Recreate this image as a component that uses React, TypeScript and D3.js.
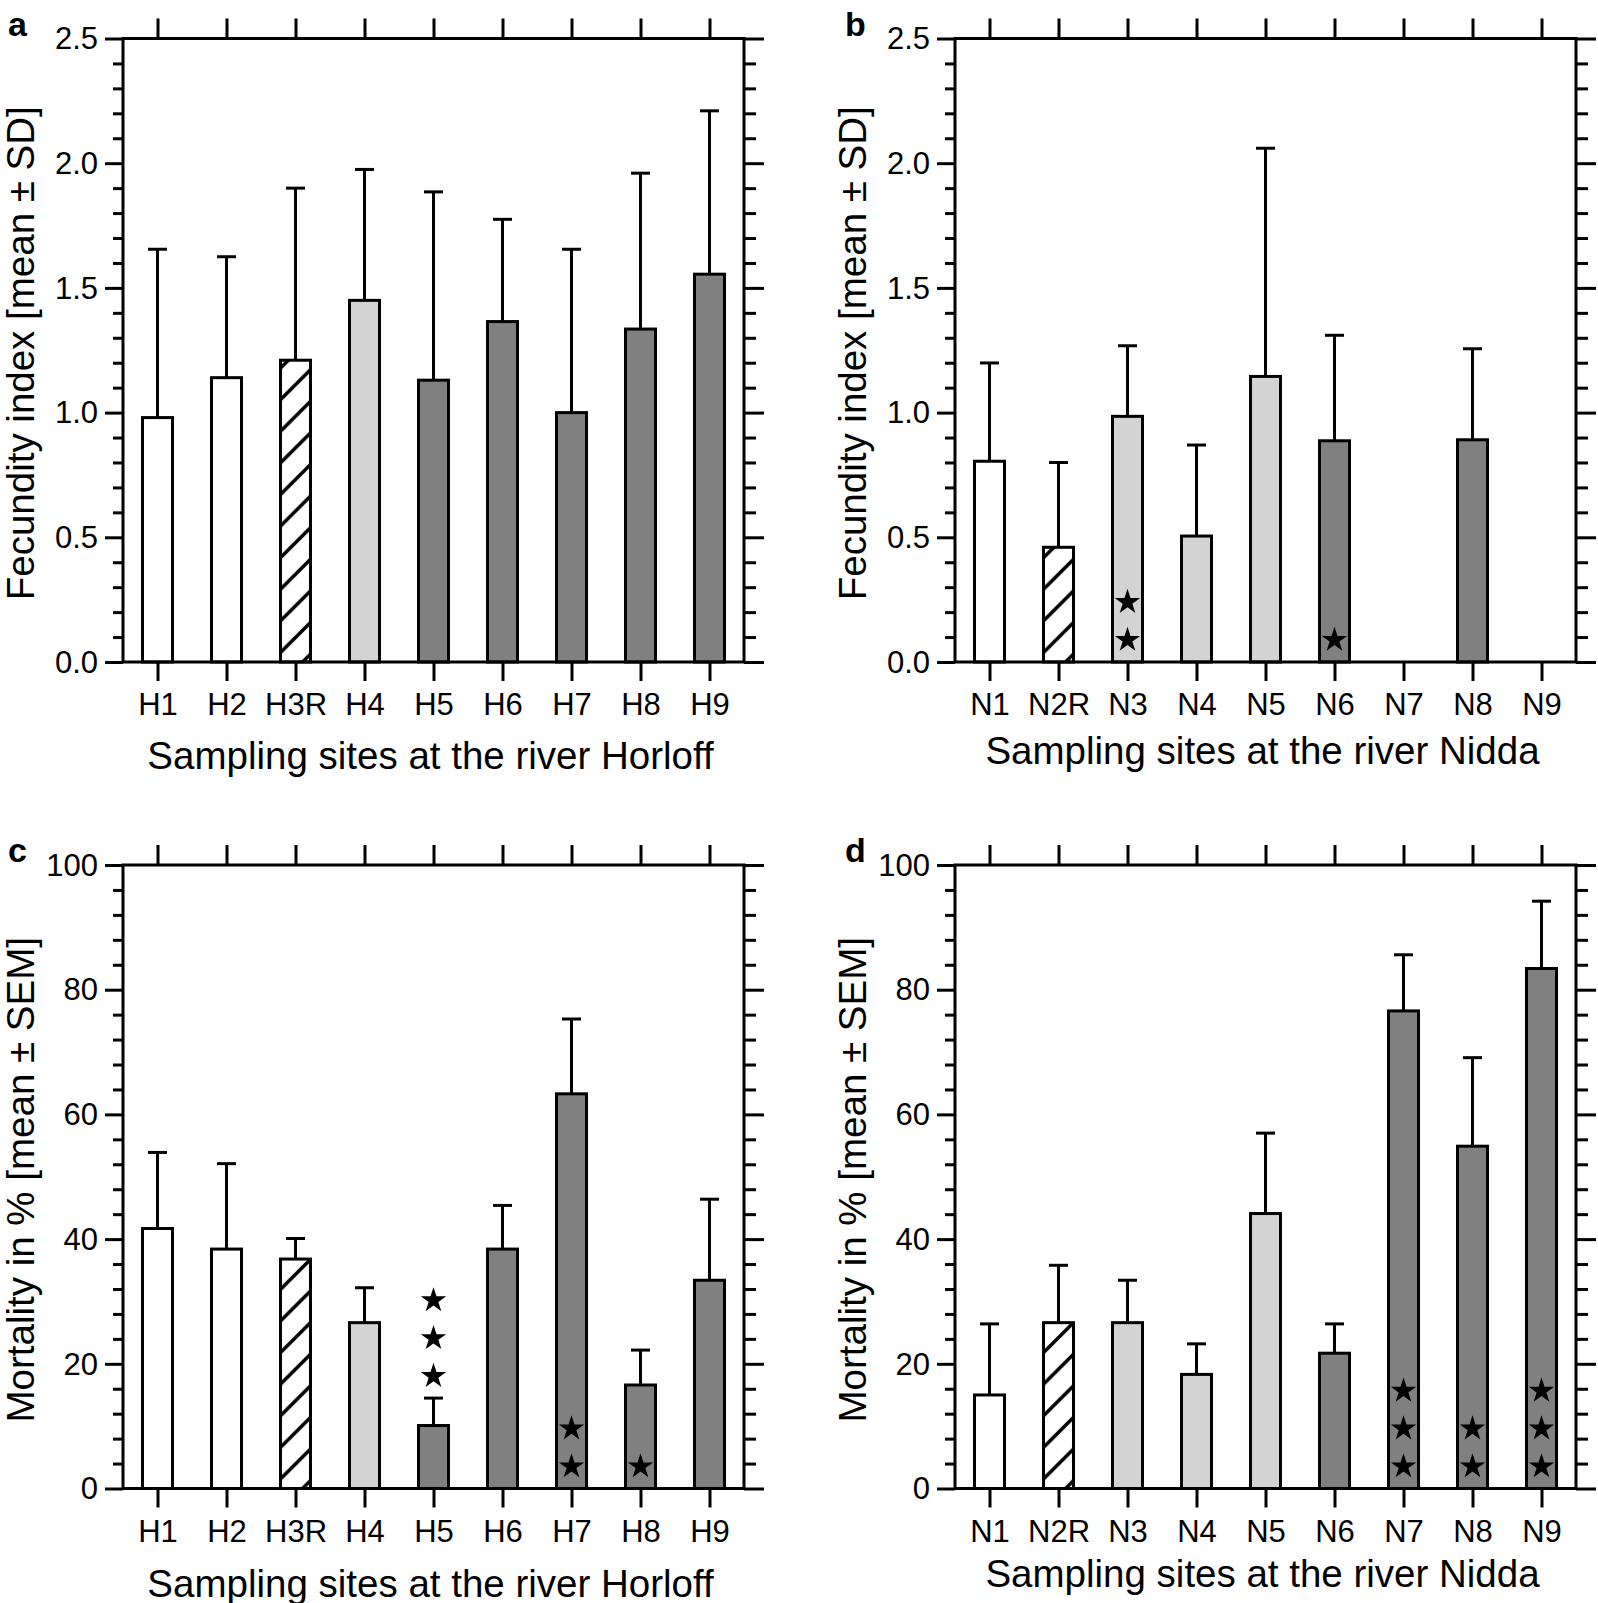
import React, { useEffect, useRef } from 'react';
import * as d3 from 'd3';

// sites and bar fill types
const horloffSites = ["H1", "H2", "H3R", "H4", "H5", "H6", "H7", "H8", "H9"];
const niddaSites = ["N1", "N2R", "N3", "N4", "N5", "N6", "N7", "N8", "N9"];
const horloffFill = ["white", "white", "hatch", "light", "dark", "dark", "dark", "dark", "dark"];
const niddaFill = ["white", "hatch", "light", "light", "light", "dark", "dark", "dark", "dark"];

// a: fecundity Horloff (mean, SD)
const fecHorloffMean = [0.98, 1.14, 1.21, 1.45, 1.13, 1.365, 1.0, 1.335, 1.555];
const fecHorloffSD = [0.675, 0.485, 0.69, 0.525, 0.755, 0.41, 0.655, 0.625, 0.655];
// b: fecundity Nidda (mean, SD)
const fecNiddaMean = [0.805, 0.46, 0.985, 0.505, 1.145, 0.887, 0, 0.891, 0];
const fecNiddaSD = [0.394, 0.34, 0.283, 0.365, 0.915, 0.423, 0, 0.365, 0];
const fecNiddaStars = [0, 0, 2, 0, 0, 1, 0, 0, 0];
// c: mortality Horloff (mean, SEM)
const morHorloffMean = [41.7, 38.4, 36.8, 26.6, 10.1, 38.4, 63.3, 16.6, 33.4];
const morHorloffSEM = [12.2, 13.7, 3.3, 5.6, 4.4, 7.0, 12.0, 5.6, 13.0];
const morHorloffStars = [0, 0, 0, 0, 3, 0, 2, 1, 0];
const morHorloffStarsAbove = ["H5"];
// d: mortality Nidda (mean, SEM)
const morNiddaMean = [15.0, 26.6, 26.6, 18.3, 44.1, 21.7, 76.6, 54.9, 83.4];
const morNiddaSEM = [11.4, 9.2, 6.8, 4.9, 12.9, 4.7, 9.0, 14.2, 10.8];
const morNiddaStars = [0, 0, 0, 0, 0, 0, 3, 2, 3];

const fecundityTicks = [0, 0.5, 1.0, 1.5, 2.0, 2.5];
const mortalityTicks = [0, 20, 40, 60, 80, 100];

const FONT = "'Liberation Sans', Arial, Helvetica, sans-serif";
const W = 621;
const H = 623.5;
const fills = { white: "#ffffff", light: "#d3d3d3", dark: "#808080" };

function drawPanel(svg, p) {
  const g = svg.append("g");
  const x = d3.scalePoint().domain(p.sites).range([p.left, p.left + W]).padding(0.5);
  const y = d3.scaleLinear().domain([0, p.yMax]).range([p.top + H, p.top]);

  const data = p.sites.map((s, i) => ({
    site: s, mean: p.mean[i], err: p.err[i], fill: p.fill[i],
    stars: p.stars ? p.stars[i] : 0,
    above: p.starsAbove ? p.starsAbove.includes(s) : false,
  }));

  // hatch pattern for this panel
  const s = 31.6;
  const firstBar = data.find(d => d.fill === "hatch");
  const off = ((x(firstBar.site) - 16.5 + y(0) - 8) % s + s) % s;
  const pat = svg.select("defs").append("pattern")
    .attr("id", p.id + "-hatch")
    .attr("patternUnits", "userSpaceOnUse")
    .attr("x", off).attr("y", 0)
    .attr("width", s).attr("height", s);
  pat.append("rect").attr("width", s).attr("height", s).attr("fill", "#fff");
  pat.append("path")
    .attr("d", `M0,${s} L${s},0 M${-s / 2},${s / 2} L${s / 2},${-s / 2} M${s / 2},${s * 1.5} L${s * 1.5},${s / 2}`)
    .attr("stroke", "#000").attr("stroke-width", 3.5);

  const bars = data.filter(d => d.mean > 0);

  // error bars
  g.selectAll("line.err").data(bars).enter().append("line")
    .attr("x1", d => x(d.site)).attr("x2", d => x(d.site))
    .attr("y1", d => y(d.mean)).attr("y2", d => y(d.mean + d.err))
    .attr("stroke", "#000").attr("stroke-width", 3);
  g.selectAll("line.cap").data(bars).enter().append("line")
    .attr("x1", d => x(d.site) - 9.5).attr("x2", d => x(d.site) + 9.5)
    .attr("y1", d => y(d.mean + d.err)).attr("y2", d => y(d.mean + d.err))
    .attr("stroke", "#000").attr("stroke-width", 3);

  g.selectAll("rect.bar").data(bars).enter().append("rect")
    .attr("x", d => x(d.site) - 15)
    .attr("y", d => y(d.mean))
    .attr("width", 30)
    .attr("height", d => y(0) - y(d.mean))
    .attr("fill", d => d.fill === "hatch" ? `url(#${p.id}-hatch)` : fills[d.fill])
    .attr("stroke", "#000").attr("stroke-width", 3);

  // significance stars
  const star = d3.symbol().type(d3.symbolStar).size(200);
  data.forEach(d => {
    const base = d.above ? y(d.mean + d.err) : y(0);
    for (let k = 0; k < d.stars; k++) {
      g.append("path").attr("d", star())
        .attr("transform", `translate(${x(d.site)},${base - 22 - k * 37.8})`)
        .attr("fill", "#000");
    }
  });

  // axes
  const minors = d3.range(0, p.yMax + 1e-9, p.minorStep)
    .filter(v => !p.ticks.some(t => Math.abs(t - v) < 1e-9));

  const styleAxis = (sel) => {
    sel.select(".domain").remove();
    sel.selectAll("line").attr("stroke", "#000").attr("stroke-width", 3);
    sel.selectAll("text").attr("fill", "#000").attr("font-family", FONT).attr("font-size", 31);
  };

  g.append("g").attr("transform", `translate(${p.left},0)`)
    .call(d3.axisLeft(y).tickValues(p.ticks).tickSize(18).tickPadding(7).tickFormat(p.format))
    .call(styleAxis)
    .selectAll("text").attr("dy", "0.33em");
  g.append("g").attr("transform", `translate(${p.left},0)`)
    .call(d3.axisLeft(y).tickValues(minors).tickSize(10).tickFormat(() => ""))
    .call(styleAxis);
  g.append("g").attr("transform", `translate(${p.left + W},0)`)
    .call(d3.axisRight(y).tickValues(p.ticks).tickSize(20).tickFormat(() => ""))
    .call(styleAxis);
  g.append("g").attr("transform", `translate(${p.left + W},0)`)
    .call(d3.axisRight(y).tickValues(minors).tickSize(12).tickFormat(() => ""))
    .call(styleAxis);
  g.append("g").attr("transform", `translate(0,${p.top})`)
    .call(d3.axisTop(x).tickSize(20).tickFormat(() => ""))
    .call(styleAxis);
  g.append("g").attr("transform", `translate(0,${p.top + H})`)
    .call(d3.axisBottom(x).tickSize(19))
    .call(styleAxis)
    .selectAll("text").attr("y", 53).attr("dy", 0);

  // frame
  g.append("rect")
    .attr("x", p.left).attr("y", p.top).attr("width", W).attr("height", H)
    .attr("fill", "none").attr("stroke", "#000").attr("stroke-width", 3);

  // titles
  g.append("text")
    .attr("transform", `translate(${p.left - 89},${p.top + H / 2 + 3}) rotate(-90)`)
    .attr("text-anchor", "middle")
    .attr("font-family", FONT).attr("font-size", 38.5)
    .text(p.yTitle);
  g.append("text")
    .attr("x", p.left + W / 2 - 3).attr("y", p.top + H + p.xTitleOffset)
    .attr("text-anchor", "middle")
    .attr("font-family", FONT).attr("font-size", 38.5)
    .text(p.xTitle);
  g.append("text")
    .attr("x", p.letterX).attr("y", p.top - 3)
    .attr("font-family", FONT).attr("font-size", 34).attr("font-weight", "bold")
    .text(p.letter);
}

const App = () => {
  const ref = useRef(null);

  useEffect(() => {
    const svg = d3.select(ref.current);
    svg.selectAll("*").remove();
    svg.append("defs");

    const fecTitle = "Fecundity index [mean \u00b1 SD]";
    const morTitle = "Mortality in % [mean \u00b1 SEM]";

    drawPanel(svg, {
      id: "a", letter: "a", letterX: 8, left: 123, top: 38.5,
      sites: horloffSites, fill: horloffFill, mean: fecHorloffMean, err: fecHorloffSD,
      yMax: 2.5, ticks: fecundityTicks, minorStep: 0.1, format: d3.format(".1f"),
      yTitle: fecTitle, xTitle: "Sampling sites at the river Horloff", xTitleOffset: 107,
    });
    drawPanel(svg, {
      id: "b", letter: "b", letterX: 845, left: 955, top: 38.5,
      sites: niddaSites, fill: niddaFill, mean: fecNiddaMean, err: fecNiddaSD, stars: fecNiddaStars,
      yMax: 2.5, ticks: fecundityTicks, minorStep: 0.1, format: d3.format(".1f"),
      yTitle: fecTitle, xTitle: "Sampling sites at the river Nidda", xTitleOffset: 102,
    });
    drawPanel(svg, {
      id: "c", letter: "c", letterX: 8, left: 123, top: 865,
      sites: horloffSites, fill: horloffFill, mean: morHorloffMean, err: morHorloffSEM,
      stars: morHorloffStars, starsAbove: morHorloffStarsAbove,
      yMax: 100, ticks: mortalityTicks, minorStep: 4, format: d3.format("d"),
      yTitle: morTitle, xTitle: "Sampling sites at the river Horloff", xTitleOffset: 108,
    });
    drawPanel(svg, {
      id: "d", letter: "d", letterX: 845, left: 955, top: 865,
      sites: niddaSites, fill: niddaFill, mean: morNiddaMean, err: morNiddaSEM, stars: morNiddaStars,
      yMax: 100, ticks: mortalityTicks, minorStep: 4, format: d3.format("d"),
      yTitle: morTitle, xTitle: "Sampling sites at the river Nidda", xTitleOffset: 98,
    });
  }, []);

  return (
    <svg ref={ref} width={1598} height={1603}
      style={{ position: 'absolute', left: 0, top: 0, background: '#fff' }} />
  );
};

export default App;
